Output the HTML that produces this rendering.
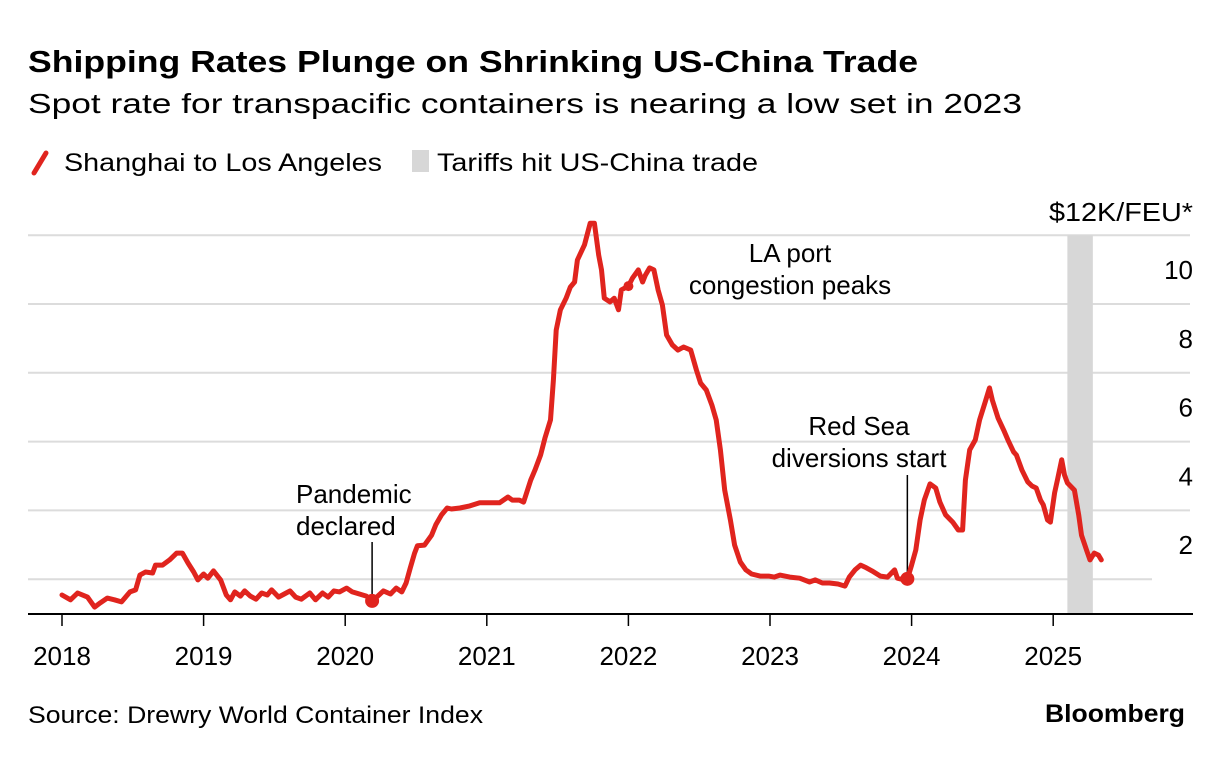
<!DOCTYPE html>
<html><head><meta charset="utf-8">
<style>
html,body{margin:0;padding:0;background:#fff;}
body{width:1223px;height:756px;overflow:hidden;font-family:"Liberation Sans",Arial,sans-serif;color:#000;}
svg text{font-family:"Liberation Sans",Arial,sans-serif;}
</style></head>
<body>
<svg id="chart" width="1223" height="756" viewBox="0 0 1223 756" xmlns="http://www.w3.org/2000/svg">
  <text x="28" y="72" font-size="31" font-weight="bold" textLength="890" lengthAdjust="spacingAndGlyphs">Shipping Rates Plunge on Shrinking US-China Trade</text>
  <text x="28" y="113" font-size="28" textLength="994" lengthAdjust="spacingAndGlyphs">Spot rate for transpacific containers is nearing a low set in 2023</text>
  <g>
    <line x1="34" y1="173" x2="46" y2="153" stroke="#e0241e" stroke-width="5" stroke-linecap="round"/>
    <text x="64" y="171" font-size="25" textLength="318" lengthAdjust="spacingAndGlyphs">Shanghai to Los Angeles</text>
    <rect x="412" y="150" width="17" height="22" fill="#d7d7d7"/>
    <text x="437" y="171" font-size="25" textLength="321" lengthAdjust="spacingAndGlyphs">Tariffs hit US-China trade</text>
  </g>
  <g id="grid"></g>
  <g id="band"></g>
  <g id="yaxis"></g>
  <g id="xaxis"></g>
  <g id="annots"></g>
  <g id="series"></g>
  <text x="28" y="723" font-size="24" textLength="455" lengthAdjust="spacingAndGlyphs">Source: Drewry World Container Index</text>
  <text x="1185" y="722" font-size="25" font-weight="bold" text-anchor="end" textLength="140" lengthAdjust="spacingAndGlyphs">Bloomberg</text>
</svg>
<script>
const yTicks = [2,4,6,8,10,12];
const yTickLabels = ["2","4","6","8","10","$12K/FEU*"];
const xTicks = [2018,2019,2020,2021,2022,2023,2024,2025];
const tariffStart = 2025.10;
const tariffEnd = 2025.28;
const dates = [2018.00,2018.06,2018.11,2018.18,2018.23,2018.27,2018.32,2018.37,2018.42,2018.48,2018.52,2018.55,2018.59,2018.64,2018.66,2018.71,2018.76,2018.81,2018.85,2018.89,2018.93,2018.96,
2019.00,2019.03,2019.07,2019.12,2019.16,2019.19,2019.22,2019.26,2019.29,2019.33,2019.37,2019.41,2019.45,2019.48,2019.53,2019.57,2019.61,2019.65,2019.69,2019.75,2019.79,2019.84,2019.88,2019.92,2019.96,
2020.01,2020.05,2020.10,2020.15,2020.19,2020.23,2020.27,2020.32,2020.36,2020.40,2020.43,2020.46,2020.49,2020.51,2020.56,2020.61,2020.64,2020.68,2020.72,2020.75,2020.81,2020.88,2020.95,
2021.02,2021.09,2021.15,2021.18,2021.23,2021.26,2021.31,2021.34,2021.38,2021.41,2021.45,2021.47,2021.49,2021.52,2021.56,2021.59,2021.62,2021.64,2021.69,2021.73,2021.76,2021.79,2021.81,2021.83,2021.87,2021.90,2021.93,2021.95,
2022.00,2022.03,2022.07,2022.10,2022.12,2022.15,2022.18,2022.21,2022.24,2022.27,2022.31,2022.35,2022.39,2022.44,2022.48,2022.51,2022.55,2022.59,2022.62,2022.65,2022.68,2022.72,2022.75,2022.79,2022.83,2022.87,2022.93,2022.99,
2023.03,2023.07,2023.14,2023.21,2023.28,2023.32,2023.37,2023.42,2023.48,2023.53,2023.56,2023.60,2023.64,2023.68,2023.72,2023.78,2023.83,2023.88,2023.90,2023.95,2023.97,
2024.00,2024.03,2024.06,2024.09,2024.13,2024.17,2024.20,2024.24,2024.29,2024.33,2024.36,2024.38,2024.41,2024.45,2024.48,2024.52,2024.55,2024.57,2024.61,2024.65,2024.68,2024.72,2024.74,2024.78,2024.82,2024.85,2024.88,2024.91,2024.93,2024.96,2024.98,
2025.01,2025.03,2025.06,2025.08,2025.10,2025.15,2025.18,2025.20,2025.24,2025.26,2025.29,2025.32,2025.34];
const rates = [1.54,1.40,1.60,1.48,1.19,1.31,1.45,1.40,1.34,1.63,1.69,2.12,2.21,2.18,2.41,2.41,2.56,2.76,2.76,2.47,2.21,1.98,
2.15,2.03,2.24,1.98,1.54,1.40,1.63,1.51,1.66,1.51,1.42,1.60,1.54,1.69,1.48,1.57,1.66,1.48,1.42,1.60,1.40,1.60,1.48,1.66,1.63,
1.74,1.63,1.57,1.51,1.37,1.51,1.66,1.57,1.74,1.63,1.89,2.33,2.76,2.97,2.99,3.28,3.58,3.87,4.07,4.04,4.07,4.13,4.22,
4.22,4.22,4.39,4.30,4.30,4.24,4.88,5.17,5.61,6.10,6.63,7.79,9.24,9.83,10.17,10.49,10.64,11.28,11.72,12.35,12.35,11.42,10.99,10.17,10.06,10.17,9.83,10.41,
10.52,10.76,10.99,10.64,10.84,11.05,10.99,10.41,9.97,9.10,8.81,8.66,8.75,8.66,8.08,7.70,7.50,7.06,6.63,5.76,4.59,3.72,2.99,2.50,2.27,2.15,2.09,2.09,
2.06,2.12,2.06,2.03,1.92,1.98,1.89,1.89,1.86,1.80,2.06,2.27,2.41,2.33,2.24,2.09,2.06,2.27,2.03,1.98,2.01,
2.41,2.85,3.72,4.30,4.77,4.65,4.24,3.87,3.66,3.43,3.43,4.88,5.76,6.05,6.63,7.15,7.56,7.21,6.69,6.34,6.05,5.70,5.61,5.17,4.83,4.71,4.65,4.30,4.16,3.72,3.66,
4.51,4.88,5.47,5.03,4.80,4.59,3.87,3.28,2.79,2.56,2.76,2.70,2.56];
const pandemicDate = 2020.19, pandemicRate = 1.37;
const laPortDate = 2022.00, laPortRate = 10.52;
const redSeaDate = 2023.97, redSeaRate = 2.01;

const NS = "http://www.w3.org/2000/svg";
const xScale = d => 62 + (d - 2018) * 141.6;
const yScale = v => 648 - v * 34.4;
function mk(tag, attrs, parent, text) {
  const el = document.createElementNS(NS, tag);
  for (const k in attrs) el.setAttribute(k, attrs[k]);
  if (text !== undefined) el.textContent = text;
  parent.appendChild(el);
  return el;
}
const grid = document.getElementById('grid');
const yaxis = document.getElementById('yaxis');
yTicks.forEach((t, i) => {
  const gl = mk('line', {x1: 28, x2: i === 0 ? 1152 : 1190, y1: yScale(t), y2: yScale(t), stroke: '#dcdcdc', 'stroke-width': 2}, grid);
  
  
  const last = i === yTicks.length - 1;
  const attrs = {x: 1193, y: last ? yScale(t) - 14 : yScale(t) - 25, 'font-size': 26, 'text-anchor': 'end'};
  if (last) { attrs.textLength = 144; attrs.lengthAdjust = 'spacingAndGlyphs'; }
  const lab = mk('text', attrs, yaxis, yTickLabels[i]);
  
  
});
const band = document.getElementById('band');
const br = mk('rect', {x: xScale(tariffStart), y: yScale(12), width: xScale(tariffEnd) - xScale(tariffStart), height: 613 - yScale(12), fill: '#d7d7d7'}, band);


const xaxis = document.getElementById('xaxis');
const ax = mk('line', {x1: 28, x2: 1193, y1: 614, y2: 614, stroke: '#000', 'stroke-width': 2}, xaxis);


xTicks.forEach(t => {
  const tk = mk('line', {x1: xScale(t), x2: xScale(t), y1: 614, y2: 626, stroke: '#000', 'stroke-width': 1.5}, xaxis);
  
  
  const lb = mk('text', {x: xScale(t), y: 665, 'font-size': 26, 'text-anchor': 'middle'}, xaxis, String(t));
  
  
});
const annots = document.getElementById('annots');
const pl = mk('line', {x1: xScale(pandemicDate), x2: xScale(pandemicDate), y1: 542, y2: yScale(pandemicRate), stroke: '#000', 'stroke-width': 1.5}, annots);


const pt = mk('text', {x: 296, y: 503, 'font-size': 26}, annots);


mk('tspan', {x: 296, dy: 0}, pt, 'Pandemic');
mk('tspan', {x: 296, dy: 32}, pt, 'declared');
const rl = mk('line', {x1: xScale(redSeaDate), x2: xScale(redSeaDate), y1: 475, y2: yScale(redSeaRate), stroke: '#000', 'stroke-width': 1.5}, annots);


const rt = mk('text', {x: 859, y: 435, 'font-size': 26, 'text-anchor': 'middle'}, annots);


mk('tspan', {x: 859, dy: 0}, rt, 'Red Sea');
mk('tspan', {x: 859, dy: 32}, rt, 'diversions start');
const lt = mk('text', {x: 790, y: 262, 'font-size': 26, 'text-anchor': 'middle'}, annots);


mk('tspan', {x: 790, dy: 0}, lt, 'LA port');
mk('tspan', {x: 790, dy: 32}, lt, 'congestion peaks');
const series = document.getElementById('series');
const d = dates.map((dt, i) => (i ? 'L' : 'M') + xScale(dt).toFixed(1) + ' ' + yScale(rates[i]).toFixed(1)).join(' ');
const path = mk('path', {d: d, fill: 'none', stroke: '#e0241e', 'stroke-width': 5, 'stroke-linejoin': 'round', 'stroke-linecap': 'round'}, series);


[[pandemicDate, pandemicRate, 'pandemic-dot', 7], [laPortDate, laPortRate, 'la-port-dot', 5], [redSeaDate, redSeaRate, 'red-sea-dot', 7]].forEach(p => {
  const c = mk('circle', {cx: xScale(p[0]), cy: yScale(p[1]), r: p[3], fill: '#e0241e'}, series);
  
  
});
</script>
</body></html>
